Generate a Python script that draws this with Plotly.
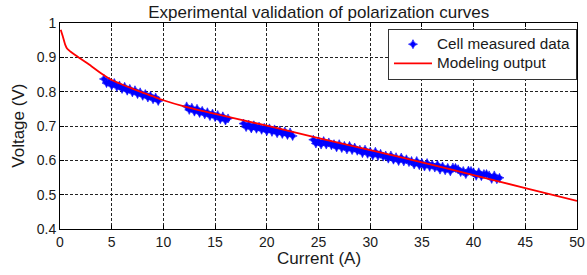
import plotly.graph_objects as go

# ---- data ----
model_I = [0.07, 0.3, 0.5, 0.7, 1.0, 1.5, 2.0, 2.5, 3.0, 4.0, 5.0, 6.0, 7.0, 8.0, 9.0,
           10.0, 12.0, 15.0, 20.0, 25.0, 30.0, 35.0, 40.0, 45.0, 50.0]
model_V = [0.980, 0.958, 0.937, 0.925, 0.917, 0.906, 0.896, 0.886, 0.875, 0.853, 0.834,
           0.821, 0.809, 0.797, 0.786, 0.775, 0.757, 0.735, 0.701, 0.665, 0.630, 0.594,
           0.557, 0.519, 0.482]

meas1_I = [4.25, 4.5, 4.75, 5.0, 5.25, 5.5, 5.75, 6.0, 6.25, 6.5, 6.75, 7.0, 7.25, 7.5,
           7.75, 8.0, 8.25, 8.5, 8.75, 9.0, 9.25, 9.5]
meas1_V = [0.837, 0.825, 0.829, 0.818, 0.825, 0.814, 0.818, 0.808, 0.814, 0.803, 0.808,
           0.798, 0.804, 0.793, 0.798, 0.788, 0.793, 0.783, 0.788, 0.778, 0.783, 0.773]

meas2_I = [12.25, 12.5, 12.75, 13.0, 13.25, 13.5, 13.75, 14.0, 14.25, 14.5, 14.75, 15.0,
           15.25, 15.5, 15.75, 16.0, 16.25]
meas2_V = [0.757, 0.747, 0.753, 0.742, 0.750, 0.738, 0.744, 0.734, 0.740, 0.729, 0.736,
           0.726, 0.732, 0.720, 0.728, 0.716, 0.722]

meas3_I = [17.75, 18.0, 18.25, 18.5, 18.75, 19.0, 19.25, 19.5, 19.75, 20.0, 20.25, 20.5,
           20.75, 21.0, 21.25, 21.5, 21.75, 22.0, 22.25, 22.5]
meas3_V = [0.707, 0.697, 0.704, 0.693, 0.702, 0.692, 0.698, 0.689, 0.695, 0.685, 0.693,
           0.683, 0.690, 0.679, 0.687, 0.677, 0.684, 0.674, 0.681, 0.671]

meas4_I = [24.5, 24.75, 25.0, 25.25, 25.5, 25.75, 26.0, 26.25, 26.5, 26.75, 27.0, 27.25,
           27.5, 27.75, 28.0, 28.25, 28.5, 28.75, 29.0, 29.25, 29.5, 29.75, 30.0, 30.25,
           30.5, 30.75, 31.0, 31.25, 31.5, 31.75, 32.0, 32.25, 32.5, 32.75, 33.0, 33.25,
           33.5, 33.75, 34.0, 34.25, 34.5, 34.75, 35.0, 35.25, 35.5, 35.75, 36.0, 36.25,
           36.5, 36.75, 37.0, 37.25, 37.5, 37.75, 38.0, 38.25, 38.5, 38.75, 39.0, 39.25,
           39.5, 39.75, 40.0, 40.25, 40.5, 40.75, 41.0, 41.25, 41.5, 41.75, 42.0, 42.25, 42.5]
meas4_V = [0.660, 0.649, 0.656, 0.646, 0.656, 0.646, 0.652, 0.644, 0.647, 0.638, 0.647,
           0.636, 0.642, 0.632, 0.642, 0.630, 0.637, 0.628, 0.631, 0.621, 0.631, 0.619,
           0.625, 0.614, 0.625, 0.613, 0.619, 0.611, 0.614, 0.605, 0.614, 0.602, 0.609,
           0.598, 0.608, 0.597, 0.603, 0.595, 0.598, 0.588, 0.598, 0.586, 0.592, 0.582,
           0.592, 0.581, 0.587, 0.579, 0.587, 0.573, 0.582, 0.571, 0.578, 0.568, 0.579,
           0.578, 0.574, 0.566, 0.569, 0.560, 0.570, 0.569, 0.565, 0.555, 0.565, 0.554,
           0.560, 0.560, 0.556, 0.546, 0.556, 0.545, 0.549]

x_ticks = [0, 5, 10, 15, 20, 25, 30, 35, 40, 45, 50]
y_ticks = [0.4, 0.5, 0.6, 0.7, 0.8, 0.9, 1.0]
y_tick_text = ["0.4", "0.5", "0.6", "0.7", "0.8", "0.9", "1"]

title_text = "Experimental validation of polarization curves"
x_title = "Current (A)"
y_title = "Voltage (V)"
legend_names = ["Cell measured data", "Modeling output"]

meas_I = meas1_I + meas2_I + meas3_I + meas4_I
meas_V = meas1_V + meas2_V + meas3_V + meas4_V

FONT = "Liberation Sans, Arial, Helvetica, sans-serif"
TXT = "#1a1a1a"


def big(s):
    return "<span style='font-size:15.3px'>" + s + "</span>"


fig = go.Figure()
fig.add_trace(go.Scatter(
    x=meas_I, y=meas_V, mode="markers", name=big(legend_names[0]),
    marker=dict(symbol="star-diamond", size=6.5, color="#0000FF",
                line=dict(color="#0000FF", width=0.6)),
))
fig.add_trace(go.Scatter(
    x=model_I, y=model_V, mode="lines", name=big(legend_names[1]),
    line=dict(color="#FF0000", width=1.8, shape="spline", smoothing=0.6),
))

axis_common = dict(
    showline=True, linecolor="black", linewidth=1, mirror="ticks",
    ticks="inside", ticklen=4, tickcolor="black",
    showgrid=True, gridcolor="#222222", gridwidth=1, griddash="3px,2px",
    zeroline=False, automargin=False,
    tickfont=dict(family=FONT, size=14, color=TXT),
)

fig.update_layout(
    width=587, height=275,
    margin=dict(l=60, r=10, t=23, b=46),
    paper_bgcolor="white", plot_bgcolor="white",
    title=dict(text=title_text, x=0.543, xanchor="center", y=0.955, yanchor="middle",
               font=dict(family=FONT, size=17, color=TXT)),
    showlegend=True,
    legend=dict(x=0.6344, y=0.973, xanchor="left", yanchor="top",
                bgcolor="white", bordercolor="#333333", borderwidth=1,
                font=dict(family=FONT, size=12.5, color=TXT),
                itemwidth=38, tracegroupgap=0),
    annotations=[
        dict(text=x_title, xref="paper", yref="paper", x=0.5, y=-0.143,
             xanchor="center", yanchor="middle", showarrow=False,
             font=dict(family=FONT, size=17, color=TXT)),
        dict(text=y_title, xref="paper", yref="paper", x=-0.0818, y=0.5,
             xanchor="center", yanchor="middle", showarrow=False, textangle=-90,
             font=dict(family=FONT, size=17, color=TXT)),
    ],
)
fig.update_xaxes(range=[0, 50], tickvals=x_ticks, **axis_common)
fig.update_yaxes(range=[0.4, 1.0], tickvals=y_ticks, ticktext=y_tick_text, **axis_common)

fig.write_html("out.html", config={"displayModeBar": False},
               post_script="document.body.style.margin='0';document.body.style.padding='0';")
